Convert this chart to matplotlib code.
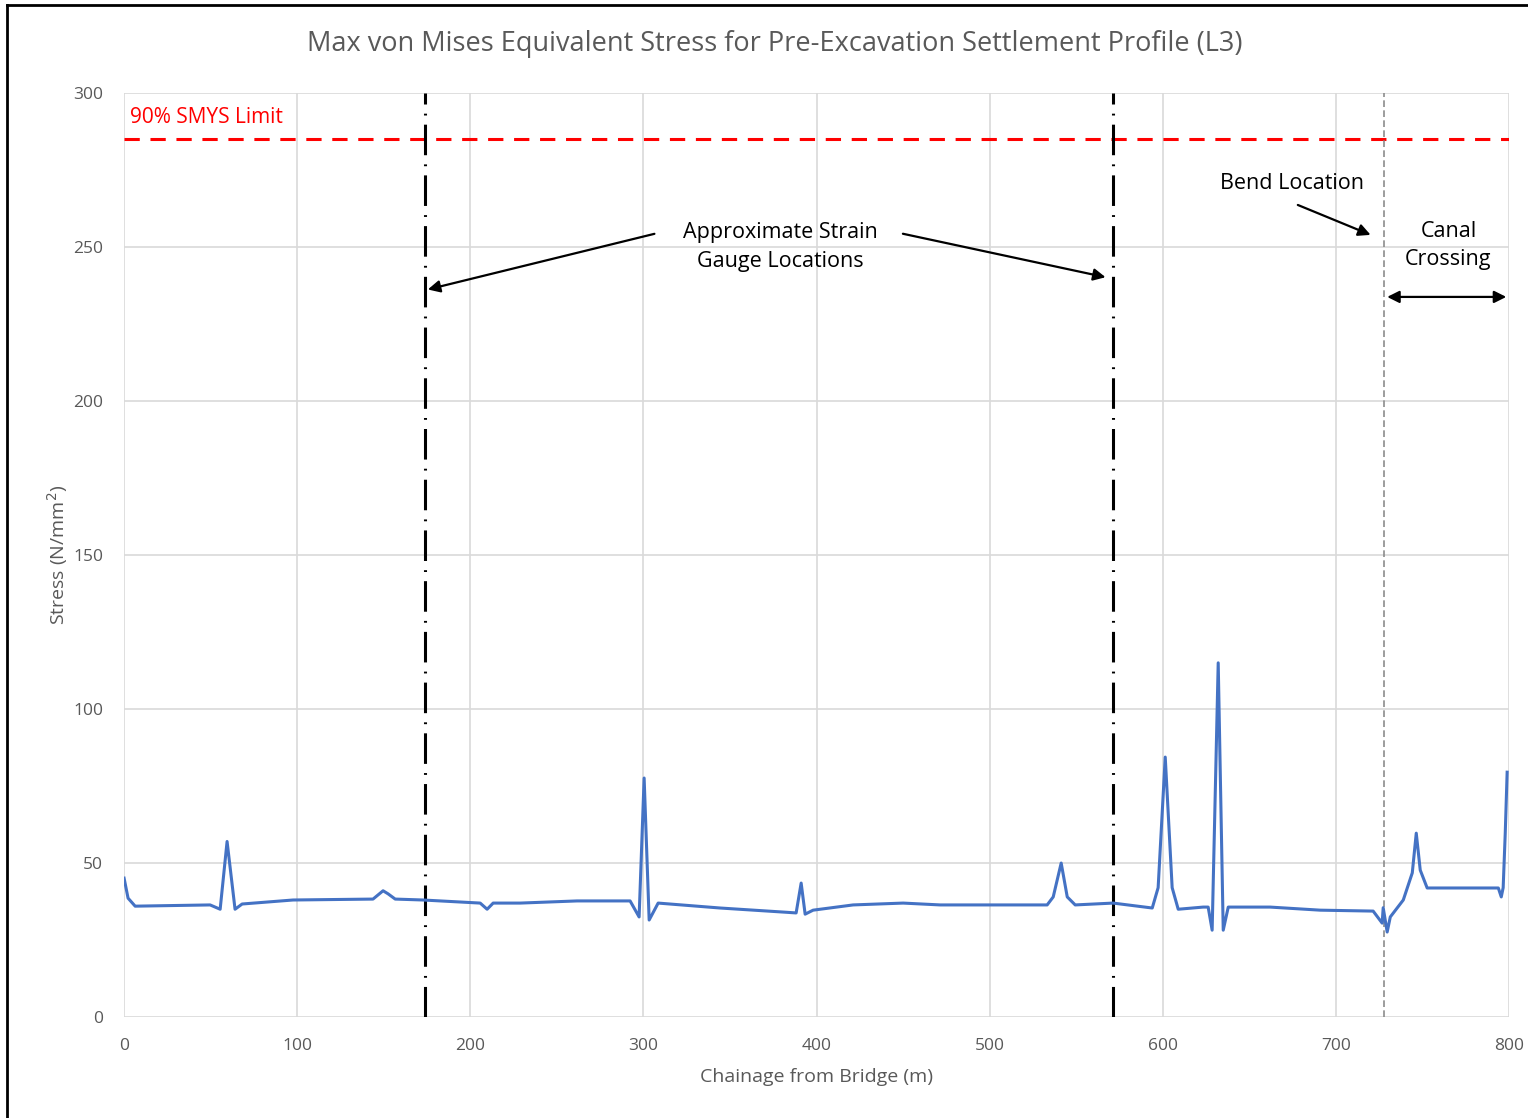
import matplotlib.pyplot as plt
from matplotlib.lines import Line2D

plt.rcParams['font.family'] = ['Open Sans', 'DejaVu Sans']

# Данні профілю напружень
chainage = [0, 2.3, 6.4, 49.7, 55.5, 59.5, 64.1, 68.2, 97.6, 143.8, 149.6, 152.5,
            156.6, 172.7, 205.7, 209.7, 213.2, 228.8, 261.7, 292.3, 297.5, 300.4,
            303.3, 308.5, 344.3, 383.0, 388.2, 391.1, 393.4, 398.0, 421.1, 450.0,
            471.4, 517.6, 533.2, 536.7, 541.3, 544.8, 549.4, 571.3, 593.9, 597.3,
            601.4, 605.4, 608.9, 623.3, 626.2, 628.5, 632.0, 634.9, 637.8, 662.0,
            690.9, 721.5, 726.7, 727.3, 729.6, 731.4, 738.9, 744.1, 746.4, 748.7,
            752.7, 793.8, 795.5, 796.6, 797.8, 798.9]
stress = [45.1, 38.6, 36.0, 36.4, 35.0, 57.0, 35.0, 36.7, 38.0, 38.3, 41.0, 40.0,
          38.3, 38.0, 37.0, 35.0, 37.0, 37.0, 37.7, 37.7, 32.5, 77.6,
          31.5, 37.0, 35.4, 34.0, 33.8, 43.5, 33.4, 34.7, 36.4, 37.0,
          36.4, 36.4, 36.4, 39.0, 50.0, 39.0, 36.4, 37.0, 35.4, 42.0,
          84.4, 42.0, 35.0, 35.7, 35.7, 28.2, 115.0, 28.2, 35.7, 35.7,
          34.7, 34.4, 30.5, 35.5, 27.6, 32.5, 38.0, 46.8, 59.7, 47.7,
          41.9, 41.9, 39.0, 42.0, 59.7, 79.5]

smys_limit = 285
gauge_locations = [174, 571]
bend_location = 728
canal_end = 800

x_ticks = [0, 100, 200, 300, 400, 500, 600, 700, 800]
y_ticks = [0, 50, 100, 150, 200, 250, 300]

fig = plt.figure(figsize=(15.28, 11.18), dpi=100)
ax = fig.add_axes([0.0812, 0.0903, 0.9064, 0.8265])

grey_text = '#595959'

# Основна крива
ax.plot(chainage, stress, color='#4472C4', linewidth=2.2, zorder=3)

# Межа 90% SMYS
ax.axhline(smys_limit, color='#FF0000', linewidth=2.2, linestyle=(0, (5, 3.5)), zorder=2)
ax.text(3.5, 292, '90% SMYS Limit', color='#FF0000', fontsize=15, va='center', ha='left')

# Розташування тензодатчиків та вигину
for g in gauge_locations:
    ax.axvline(g, color='black', linewidth=2.2, linestyle=(0, (10, 3, 0.6, 3)), zorder=2)
ax.axvline(bend_location, color='#8c8c8c', linewidth=1.2, linestyle=(0, (4, 2)), zorder=2)

# Анотації
arrow = dict(arrowstyle='-|>', color='black', lw=1.6, mutation_scale=18)
ax.text(379, 250, 'Approximate Strain\nGauge Locations', fontsize=15.5,
        ha='center', va='center', linespacing=1.45)
ax.annotate('', xy=(173.9, 236), xytext=(307.9, 254.5), arrowprops=arrow)
ax.annotate('', xy=(568.5, 240), xytext=(448.3, 254.5), arrowprops=arrow)
ax.text(674.8, 270.5, 'Bend Location', fontsize=15.5, ha='center', va='center')
ax.annotate('', xy=(721.5, 253.6), xytext=(676.5, 264), arrowprops=arrow)
ax.text(765, 250.6, 'Canal\nCrossing', fontsize=15.5, ha='center', va='center', linespacing=1.45)
ax.annotate('', xy=(bend_location, 233.8), xytext=(canal_end, 233.8),
            arrowprops=dict(arrowstyle='<|-|>', color='black', lw=1.6, mutation_scale=18))

# Налаштування осей
ax.set_xlim(0, 800)
ax.set_ylim(0, 300)
ax.set_xticks(x_ticks)
ax.set_yticks(y_ticks)
ax.grid(True, color='#d9d9d9', linewidth=1.2, zorder=0)
ax.set_axisbelow(True)
for s in ax.spines.values():
    s.set_visible(False)
ax.tick_params(axis='x', length=0, labelsize=12.5, colors=grey_text, pad=15)
ax.tick_params(axis='y', length=0, labelsize=12.5, colors=grey_text, pad=15)
ax.set_xlabel('Chainage from Bridge (m)', fontsize=14, color=grey_text, labelpad=10)
ax.set_ylabel('Stress (N/mm$^2$)', fontsize=14, color=grey_text, labelpad=2)
fig.text(775 / 1528, 1 - 44 / 1118,
         'Max von Mises Equivalent Stress for Pre-Excavation Settlement Profile (L3)',
         fontsize=19.5, color=grey_text, ha='center', va='center')

# Рамка знімка екрана
fig.add_artist(Line2D([7 / 1528, 7 / 1528], [0, 1 - 5 / 1118], color='black', lw=2,
                      transform=fig.transFigure))
fig.add_artist(Line2D([7 / 1528, 1], [1 - 5 / 1118, 1 - 5 / 1118], color='black', lw=2,
                      transform=fig.transFigure))

fig.savefig('out.png', dpi=100)
